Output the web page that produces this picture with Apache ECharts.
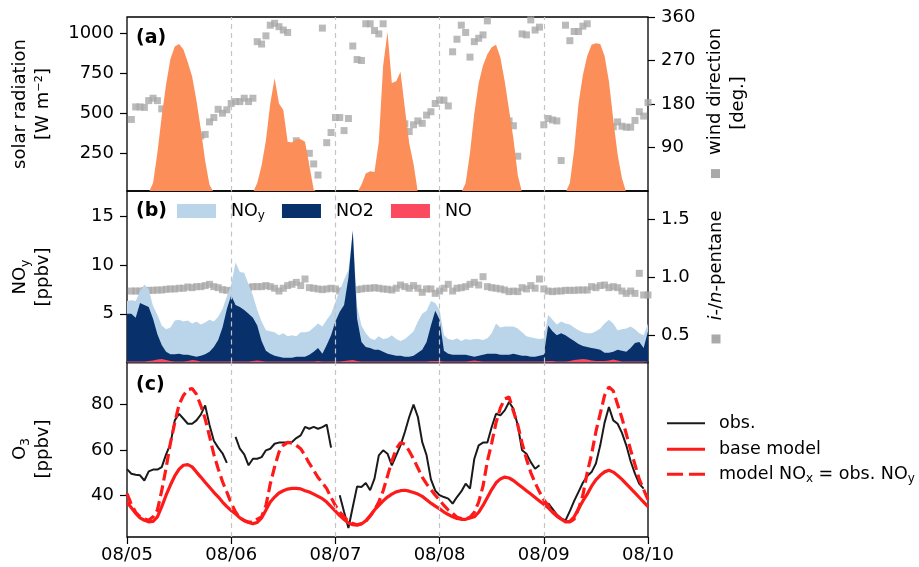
<!DOCTYPE html>
<html><head><meta charset="utf-8">
<script src="https://cdn.jsdelivr.net/npm/echarts@6/dist/echarts.min.js"></script>
<style>html,body{margin:0;padding:0;background:#fff}#c{width:919px;height:567px}</style>
</head><body><div id="c"></div>
<script>
// ---------------- data (hourly, starting 08/05 00:00) ----------------
const dayTickLabels = ['08/05','08/06','08/07','08/08','08/09','08/10'];
const HOURS_PER_DAY = 24;

// solar radiation [W m-2], hours 0..120
const solarRadiation = [
  0,0,0,0,0,0,60,250,480,680,840,920,935,900,820,730,580,400,200,50,0,0,0,0,
  0,0,0,0,0,0,60,170,330,560,720,560,520,320,315,335,335,320,170,20,0,0,0,0,
  0,0,0,0,0,0,50,120,135,130,320,800,1010,690,700,760,530,310,180,0,0,0,0,0,
  0,0,0,0,0,0,60,250,500,690,800,870,915,930,850,700,520,340,110,0,0,0,0,0,
  0,0,0,0,0,0,60,270,560,740,860,930,940,935,860,700,460,240,90,0,0,0,0,0,
  0];

// wind direction [deg], hours 1..120
const windDirection = [
  148,174,174,173,187,192,187,170,168,159,168,135,118,99,99,93,114,117,143,152,169,161,168,181,
  185,185,192,185,192,309,304,321,343,347,340,333,328,80,104,17,56,78,56,33,337,100,121,152,
  152,125,150,300,272,270,346,346,332,325,346,176,157,166,150,139,123,137,145,140,157,164,181,188,
  188,176,288,314,343,328,277,309,316,323,352,95,126,147,147,145,135,72,325,323,354,333,339,137,
  150,147,145,63,343,311,330,330,341,346,14,70,90,109,104,133,143,134,132,132,146,164,155,183];

// NOy, NO2, NO [ppbv], hours 0..120
const noy = [
  6.3,6.4,6.3,7.3,8.0,7.5,5.8,4.9,3.8,3.4,3.6,4.3,4.4,4.2,4.3,4.0,4.2,3.9,4.1,4.4,4.2,4.7,5.5,6.8,
  8.0,10.3,9.3,9.2,8.0,6.9,5.4,4.2,3.3,3.2,3.1,2.8,3.0,2.7,2.8,2.7,3.1,3.1,3.2,3.6,4.0,3.7,4.4,5.0,
  6.2,7.4,8.5,9.5,13.6,5.8,3.8,3.0,2.5,2.3,2.7,2.4,2.5,2.8,2.4,2.2,2.4,2.8,3.2,4.2,5.0,5.3,6.3,6.1,
  5.4,2.8,2.4,2.3,2.5,2.2,2.4,2.3,2.4,2.4,2.3,2.5,3.0,4.0,3.6,3.7,3.7,3.7,3.5,3.1,2.7,2.6,2.5,2.4,
  2.5,4.9,4.4,3.9,4.2,4.0,3.9,3.6,3.3,3.1,3.0,3.0,3.2,3.5,4.0,4.4,4.0,3.3,3.4,3.5,3.7,3.4,3.0,2.8,
  4.0];
const no2 = [
  5.0,5.0,4.6,6.1,5.9,5.7,4.5,2.9,1.8,1.1,0.85,0.85,0.9,0.8,0.8,0.7,0.6,0.7,0.85,1.1,1.6,2.3,3.6,5.5,
  6.9,5.9,5.7,5.4,5.0,4.6,3.8,2.2,1.2,0.9,0.7,0.6,0.5,0.5,0.5,0.6,0.6,0.6,0.8,1.1,1.5,0.9,1.8,2.8,
  4.2,5.2,5.9,8.7,13.5,4.5,2.1,1.6,1.5,1.3,1.3,1.1,0.9,0.8,0.7,0.7,0.6,0.6,0.7,1.0,1.3,2.1,3.8,5.3,
  4.4,1.2,0.9,0.8,0.8,0.8,0.8,0.7,0.6,0.7,0.8,0.9,0.9,0.9,0.8,0.8,0.8,0.9,0.8,0.7,0.7,0.6,0.6,0.7,
  0.8,3.8,3.2,2.8,3.0,2.8,2.5,2.2,1.9,1.7,1.6,1.5,1.4,1.3,1.0,1.0,1.1,1.3,1.2,1.1,1.5,2.0,2.1,1.5,
  3.2];
const no = [
  0.1,0.1,0.1,0.1,0.1,0.15,0.2,0.3,0.35,0.25,0.15,0.1,0.1,0.1,0.15,0.25,0.2,0.1,0.1,0.1,0.1,0.1,0.1,0.1,
  0.1,0.1,0.1,0.1,0.1,0.15,0.2,0.15,0.1,0.1,0.1,0.1,0.1,0.1,0.1,0.1,0.1,0.1,0.1,0.1,0.15,0.1,0.1,0.1,
  0.1,0.1,0.15,0.2,0.25,0.15,0.1,0.1,0.1,0.1,0.1,0.1,0.1,0.1,0.1,0.1,0.1,0.1,0.1,0.1,0.1,0.1,0.15,0.15,
  0.15,0.1,0.1,0.1,0.1,0.1,0.1,0.15,0.2,0.15,0.1,0.1,0.1,0.1,0.1,0.1,0.1,0.1,0.1,0.1,0.1,0.1,0.1,0.1,
  0.1,0.15,0.15,0.1,0.1,0.1,0.15,0.25,0.3,0.35,0.3,0.2,0.15,0.15,0.15,0.2,0.3,0.2,0.1,0.1,0.1,0.1,0.1,0.1,
  0.1];

// i-/n-pentane ratio, hours 1..120
const pentaneRatio = [
  0.880,0.880,0.880,0.883,0.886,0.886,0.889,0.889,0.895,0.898,0.898,0.904,0.904,0.915,0.909,0.918,0.918,0.927,0.938,0.918,0.909,0.892,0.886,0.880,
  0.880,0.892,0.904,0.909,0.918,0.918,0.918,0.927,0.918,0.904,0.880,0.904,0.927,0.938,0.955,0.927,0.984,0.909,0.904,0.898,0.892,0.898,0.904,0.898,
  0.880,0.880,0.886,0.886,0.892,0.898,0.904,0.904,0.909,0.904,0.898,0.895,0.889,0.904,0.932,0.918,0.904,0.927,0.904,0.869,0.898,0.898,0.860,0.880,
  0.904,0.938,0.880,0.904,0.909,0.918,0.938,0.955,0.932,1.004,0.918,0.909,0.904,0.898,0.889,0.875,0.880,0.875,0.909,0.898,0.927,0.904,0.984,0.898,
  0.880,0.875,0.880,0.880,0.886,0.886,0.886,0.889,0.889,0.889,0.918,0.909,0.927,0.932,0.909,0.918,0.909,0.880,0.860,0.880,0.860,1.033,0.846,0.846];

// O3 [ppbv], hours 0..120
const o3Obs = [
  51.5,49.5,49,48.8,46.5,50.5,51.3,51.3,52.4,58,62.5,73,75.9,73.7,71.5,71.5,73,75.5,79.6,71,64,61,58.5,54.3,
  null,65.7,60.5,58,53.2,56.1,56.1,56.8,59.8,60.5,62.7,63.2,63.2,63.2,63.5,65.2,66.4,70.1,69.3,70.1,69.3,70,71.1,61,
  null,40,32.6,25.6,34.8,43.9,43.6,45.4,42.2,47.3,57.6,59.8,58.3,53.2,57.6,62,67.9,74.5,79.9,74.5,63.4,57.6,47,42,
  40,39.2,38.5,36.3,39.2,41.7,45.1,42.9,56.1,62,63.2,63.2,70.1,75.9,75.2,77.4,81.1,78.1,70.8,59.8,58.3,54.6,51.7,53.2,
  null,36.5,34,31.5,29.8,28.9,33,37.5,41.5,45.5,48.5,50.2,54,62,72,78.9,73,71.5,67.5,62,55,49.5,45,42.9,
  null];
const o3BaseModel = [
  37,34.5,32,30,29,28.3,28.5,30.5,35,40,44.5,48.5,51.5,53.2,53.5,52.5,50.2,48,45.7,43.5,41.3,39.3,37,35,
  33.3,31.8,30,28.8,28,27.5,28,30,33.5,37,39.2,41,42,42.7,43,43,42.8,42,41.4,40.5,39.5,38.5,37,35,
  33,31,29.3,27.8,27,26.8,27.3,28.8,30.8,33.5,35.5,37.5,39.2,40.5,41.5,42,42.2,41.8,41.2,40.5,39.5,38,36.5,35.2,
  34,32.6,31.5,30.5,29.8,29.4,29.4,30,30.5,32.5,35.5,39,42.5,45.5,47.2,48,47.6,46.5,45,43.5,42,40.5,39,37.5,
  36,34.5,32.5,30.8,29.5,28.3,28.5,30.5,34,37.5,40.5,44,46.8,48.8,50.3,51,50.2,48.7,47,45,43,41,39,37,
  35];
const o3ModelObsNoy = [
  40.7,36,32.5,30.5,29.5,29,30.5,33.5,42,52,63,72,80,84,86.5,87,84.5,79.5,73.7,66,58,51.7,46,41.4,
  36.5,32.6,30,28.9,28.2,28.2,29.5,30.5,35.5,45,52.5,59,62,63.3,63,62,60.5,57.5,54,51,47.8,45.5,42.9,39,
  35.5,32.6,30.5,28.6,27.5,27,27.5,28.5,31,33.5,37,42,48.5,55,60.5,63.2,62.5,59.5,56,52,48,45,42.5,40,
  37.8,35.5,33.5,32,30.3,29.7,29.5,30.3,32.5,37,44,55,63,72,78.5,82.5,83.3,77,71,63,56,50,45.5,41.5,
  38,35.5,33,31,29.5,28.5,28.3,29.5,34,40,50,58,68,76,84,87.7,86,80,74,67,60,53.5,47,42.5,
  38];

// axis tick values
const solarTicks = [250, 500, 750, 1000];
const windTicks = [90, 180, 270, 360];
const noyTicks = [5, 10, 15];
const pentaneTicks = [0.5, 1.0, 1.5];
const o3Ticks = [40, 60, 80];

// ---------------- chart ----------------
const FONT = 'DejaVu Sans';
const fromHour0 = arr => arr.map((v, i) => [i, v]);
const fromHour1 = arr => arr.map((v, i) => [i + 1, v]);
const dayLines = dayTickLabels.slice(1, -1).map((_, k) => ({ xAxis: (k + 1) * HOURS_PER_DAY }));
const dayMarkLine = {
  silent: true, symbol: ['none', 'none'], label: { show: false },
  lineStyle: { color: '#c4c4c4', type: [5, 4], width: 1.2 },
  emphasis: { disabled: true }, data: dayLines, animation: false
};

const gridBase = { left: 127, width: 521, show: true, borderColor: '#000', borderWidth: 1.3, backgroundColor: 'transparent' };
const grids = [
  Object.assign({ top: 17, height: 174 }, gridBase),
  Object.assign({ top: 191, height: 171.5 }, gridBase),
  Object.assign({ top: 362.5, height: 174.5 }, gridBase)
];

const xAxes = [0, 1, 2].map(i => ({
  type: 'value', gridIndex: i, min: 0, max: 120, interval: HOURS_PER_DAY,
  axisLine: { show: false }, splitLine: { show: false },
  axisTick: { show: i === 2, length: 7, lineStyle: { color: '#000', width: 1.2 } },
  axisLabel: {
    show: i === 2, margin: 9, color: '#000', fontFamily: FONT, fontSize: 18,
    formatter: v => dayTickLabels[Math.round(v / HOURS_PER_DAY)]
  }
}));

function yAx(gridIndex, position, min, max, ticks, fmt) {
  return {
    type: 'value', gridIndex, position, min, max,
    axisLine: { show: false }, splitLine: { show: false },
    axisTick: { show: true, length: 7, customValues: ticks, lineStyle: { color: '#000', width: 1.2 } },
    axisLabel: { show: true, customValues: ticks, margin: 13, color: '#000', fontFamily: FONT, fontSize: 18,
      formatter: fmt || (v => String(v)) }
  };
}
const yAxes = [
  yAx(0, 'left', 10, 1105, solarTicks),
  yAx(0, 'right', 0, 360, windTicks),
  yAx(1, 'left', 0, 17.6, noyTicks),
  yAx(1, 'right', 0.262, 1.745, pentaneTicks, v => v.toFixed(1)),
  yAx(2, 'left', 21.6, 98.5, o3Ticks)
];

const areaSeries = (name, data, color, xi, yi) => ({
  name, type: 'line', xAxisIndex: xi, yAxisIndex: yi, data, symbol: 'none', showSymbol: false,
  lineStyle: { width: 0 }, itemStyle: { color }, areaStyle: { color, opacity: 1 }, animation: false
});
const squareScatter = (data, xi, yi) => ({
  type: 'scatter', xAxisIndex: xi, yAxisIndex: yi, data, symbol: 'rect', symbolSize: 7,
  itemStyle: { color: '#a9a9a9' }, animation: false
});

const series = [
  areaSeries('solar', fromHour0(solarRadiation), '#fc8e59', 0, 0),
  Object.assign(squareScatter(fromHour1(windDirection), 0, 1), { markLine: dayMarkLine }),
  areaSeries('NOy', fromHour0(noy), '#bad5ea', 1, 2),
  areaSeries('NO2', fromHour0(no2), '#08306b', 1, 2),
  Object.assign(areaSeries('NO', fromHour0(no), '#fb4a5f', 1, 2), { markLine: dayMarkLine }),
  squareScatter(fromHour1(pentaneRatio), 1, 3),
  { name: 'obs.', type: 'line', xAxisIndex: 2, yAxisIndex: 4, data: fromHour0(o3Obs), symbol: 'none', showSymbol: false,
    connectNulls: false, lineStyle: { color: '#1a1a1a', width: 2 }, itemStyle: { color: '#1a1a1a' }, animation: false,
    markLine: dayMarkLine },
  { name: 'base model', type: 'line', xAxisIndex: 2, yAxisIndex: 4, data: fromHour0(o3BaseModel), symbol: 'none', showSymbol: false,
    lineStyle: { color: '#ff1a1a', width: 3.2 }, itemStyle: { color: '#ff1a1a' }, animation: false },
  { name: 'model NOx = obs. NOy', type: 'line', xAxisIndex: 2, yAxisIndex: 4, data: fromHour0(o3ModelObsNoy), symbol: 'none', showSymbol: false,
    lineStyle: { color: '#ff1a1a', width: 3.2, type: [11, 5] }, itemStyle: { color: '#ff1a1a' }, animation: false }
];

const legRich = {
  t: { fontFamily: FONT, fontSize: 17.5, lineHeight: 22, color: '#000' },
  s: { fontFamily: FONT, fontSize: 12, lineHeight: 12, verticalAlign: 'bottom', color: '#000' }
};
const legendText = {
  'NOy': '{t|NO}{s|y}', 'NO2': '{t|NO2}', 'NO': '{t|NO}',
  'obs.': '{t|obs.}', 'base model': '{t|base model}', 'model NOx = obs. NOy': '{t|model NO}{s|x}{t| = obs. NO}{s|y}'
};
const lineLegend = (name, centerY, thickness, icon) => ({
  data: [name], left: 667, top: centerY - 6.5, padding: 0, itemWidth: 38, itemHeight: thickness,
  icon, selectedMode: false, formatter: n => legendText[n],
  textStyle: { rich: legRich, padding: [0, 0, 0, 9] }
});
const legends = [
  { data: ['NOy', 'NO2', 'NO'], left: 177, top: 202, padding: 0, itemWidth: 39, itemHeight: 14, itemGap: 17,
    icon: 'rect', selectedMode: false, formatter: n => legendText[n],
    textStyle: { rich: legRich, padding: [0, 0, 0, 10] } },
  lineLegend('obs.', 420.7, 2.2, 'path://M0,0H38V2H0Z'),
  lineLegend('base model', 446.7, 3.4, 'path://M0,0H38V3H0Z'),
  lineLegend('model NOx = obs. NOy', 471.7, 3.4, 'path://M0,0H16V3H0Z M22,0H38V3H22Z')
];

const nameRich = {
  t: { fontFamily: FONT, fontSize: 18, lineHeight: 23, fill: '#000', color: '#000' },
  s: { fontFamily: FONT, fontSize: 12.5, lineHeight: 12, verticalAlign: 'bottom', fill: '#000', color: '#000' },
  i: { fontFamily: FONT, fontSize: 18, lineHeight: 23, fontStyle: 'italic', fill: '#000', color: '#000' },
  sq: { width: 9, height: 9, backgroundColor: '#a9a9a9' },
  sp: { width: 14, height: 9 }
};
function vText(x, y, text) {
  return { type: 'text', x, y, rotation: Math.PI / 2, silent: true,
    style: { text, rich: nameRich, align: 'center', verticalAlign: 'middle', textAlign: 'center', textVerticalAlign: 'middle',
      fontFamily: FONT, fontSize: 18, fill: '#000' } };
}
function panelLabel(x, y, text) {
  return { type: 'text', x, y, silent: true,
    style: { text, fontFamily: FONT, fontSize: 19, fontWeight: 'bold', fill: '#000', align: 'left', verticalAlign: 'middle',
      textAlign: 'left', textVerticalAlign: 'middle' } };
}
const graphics = [
  vText(32, 104, '{t|solar radiation}\n{t|[W m⁻²]}'),
  vText(32, 277, '{t|NO}{s|y}\n{t|[ppbv]}'),
  vText(32, 449, '{t|O}{s|3}\n{t|[ppbv]}'),
  vText(727, 103, '{sq|}{sp|}{t|wind direction}\n{t|[deg.]}'),
  vText(716, 277, '{sq|}{sp|}{i|i}{t|-/}{i|n}{t|-pentane}'),
  panelLabel(136, 38, '(a)'),
  panelLabel(136, 211, '(b)'),
  panelLabel(136, 385, '(c)')
];

const chart = echarts.init(document.getElementById('c'), null, { renderer: 'canvas' });
chart.setOption({
  animation: false,
  backgroundColor: '#fff',
  grid: grids, xAxis: xAxes, yAxis: yAxes, series, legend: legends, graphic: graphics
});
</script></body></html>
